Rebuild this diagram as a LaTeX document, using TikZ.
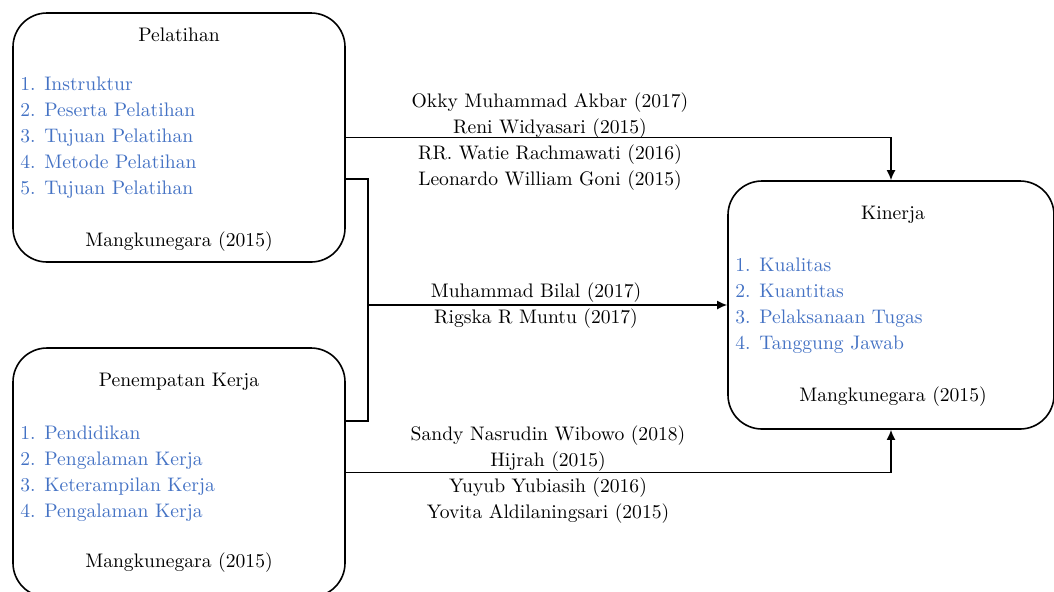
\documentclass[tikz,border=0pt]{standalone}
\usepackage{xcolor}
\usepackage{tikz}
\usetikzlibrary{arrows.meta,positioning}
\definecolor{itemblue}{HTML}{4472C4}

\begin{document}
\begin{tikzpicture}[x=0.5pt,y=-0.5pt,>={Latex[length=5pt,width=4.5pt]},
  font=\fontsize{9.8}{13}\selectfont,
  box/.style={draw,line width=0.8pt,rounded corners=17pt,inner sep=0pt},
  item/.style={text=itemblue,align=left,anchor=west,inner sep=0pt},
  lbl/.style={align=center,inner sep=0pt},
  link/.style={line width=0.8pt}]
  \useasboundingbox (0,0) rectangle (1054,591);
  % boxes
  \node[box,minimum width=166pt,minimum height=124.5pt] (pel) at (179,137.5) {};
  \node[box,minimum width=166pt,minimum height=124.5pt] (pen) at (179,472.5) {};
  \node[box,minimum width=163pt,minimum height=124pt] (kin) at (891,305) {};
  % pelatihan
  \node[lbl] (peltitle) at (179,35) {Pelatihan};
  \node[item] (pellist) at (20,138) {1. Instruktur\\2. Peserta Pelatihan\\3. Tujuan Pelatihan\\4. Metode Pelatihan\\5. Tujuan Pelatihan};
  \node[lbl] (pelref) at (179,242) {Mangkunegara (2015)};
  % penempatan kerja
  \node[lbl] (pentitle) at (179,382) {Penempatan Kerja};
  \node[item] (penlist) at (20,474) {1. Pendidikan\\2. Pengalaman Kerja\\3. Keterampilan Kerja\\4. Pengalaman Kerja};
  \node[lbl] (penref) at (179,563) {Mangkunegara (2015)};
  % kinerja
  \node[lbl] (kintitle) at (893,215) {Kinerja};
  \node[item] (kinlist) at (735,306) {1. Kualitas\\2. Kuantitas\\3. Pelaksanaan Tugas\\4. Tanggung Jawab};
  \node[lbl] (kinref) at (893,397) {Mangkunegara (2015)};
  % connectors
  \coordinate (jtop) at (368,179);
  \coordinate (jmid) at (368,305);
  \coordinate (jbot) at (368,421);
  \draw[link,->] (pel.east) -| (kin.north);
  \draw[link] (pel.east |- jtop) -- (jtop) -- (jbot) -- (pen.east |- jbot);
  \draw[link,->] (jmid) -- (kin.west);
  \draw[link,->] (pen.east) -| (kin.south);
  % studies
  \node[lbl] (toplbl) at (550,141.5) {Okky Muhammad Akbar (2017)\\Reni Widyasari (2015)\\RR. Watie Rachmawati (2016)\\Leonardo William Goni (2015)};
  \node[lbl] (midlbl) at (536,306) {Muhammad Bilal (2017)\\Rigska R Muntu (2017)};
  \node[lbl] (botlbl) at (548,474.5) {Sandy Nasrudin Wibowo (2018)\\Hijrah (2015)\\Yuyub Yubiasih (2016)\\Yovita Aldilaningsari (2015)};
\end{tikzpicture}
\end{document}
